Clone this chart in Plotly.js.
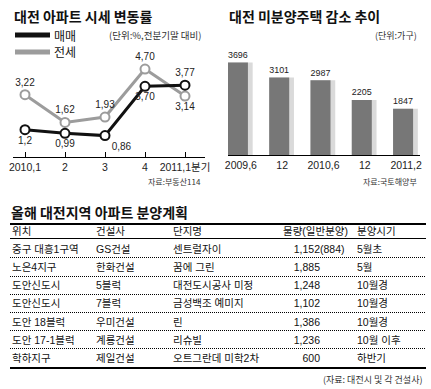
<!DOCTYPE html>
<html>
<head>
<meta charset="utf-8">
<script src="https://cdn.plot.ly/plotly-3.0.1.min.js"></script>
<style>
html,body{margin:0;padding:0;background:#fff;}
#chart{width:431px;height:389px;}
</style>
</head>
<body>
<div id="chart"></div>
<script>
// ---------- data ----------
const periods = ['2010,1', '2', '3', '4', '2011,1분기'];
const saleChange = [1.2, 0.99, 0.86, 3.70, 3.77];
const jeonseChange = [3.22, 1.62, 1.93, 4.70, 3.14];
const saleLabels = ['1,2', '0,99', '0,86', '3,70', '3,77'];
const jeonseLabels = ['3,22', '1,62', '1,93', '4,70', '3,14'];
const seriesNames = ['매매', '전세'];

const months = ['2009,6', '12', '2010,6', '12', '2011,2'];
const unsold = [3696, 3101, 2987, 2205, 1847];

const tableHeaders = ['위치', '건설사', '단지명', '물량(일반분양)', '분양시기'];
const locations = ['중구 대흥1구역', '노은4지구', '도안신도시', '도안신도시', '도안 18블럭', '도안 17-1블럭', '학하지구'];
const builders = ['GS건설', '한화건설', '5블럭', '7블럭', '우미건설', '계룡건설', '제일건설'];
const complexes = ['센트럴자이', '꿈에 그린', '대전도시공사 미정', '금성백조 예미지', '린', '리슈빌', '오트그란데 미학2차'];
const volumes = ['1,152', '1,885', '1,248', '1,102', '1,386', '1,236', '600'];
const generalSupply = ['(884)', '', '', '', '', '', ''];
const timing = ['5월초', '5월', '10월경', '10월경', '10월경', '10월 이후', '하반기'];

// ---------- layout helpers ----------
const W = 431, H = 389;
const px = x => x / W;
const py = y => 1 - y / H;
const NUM = "'Liberation Sans Narrow', 'Liberation Sans', 'Noto Sans CJK KR', sans-serif";
const KR = "'Noto Sans CJK KR', sans-serif";
const TBL = "'Liberation Sans', 'Noto Sans CJK KR', sans-serif";
const BLACK = '#111111', GRAY = '#9c9c9c';

const idx = periods.map((_, i) => i);
const bidx = months.map((_, i) => i);

const traces = [];

// line chart
traces.push({
  x: idx, y: jeonseChange, xaxis: 'x', yaxis: 'y', mode: 'lines+markers+text',
  line: {color: GRAY, width: 3},
  marker: {symbol: 'circle', size: 9, color: '#fff', line: {color: GRAY, width: 2}},
  text: jeonseLabels, textposition: ['top center', 'top center', 'top center', 'top center', 'bottom center'],
  textfont: {family: NUM, size: 10, color: '#222'},
  cliponaxis: false, hoverinfo: 'none', showlegend: false
});
traces.push({
  x: idx, y: saleChange, xaxis: 'x', yaxis: 'y', mode: 'lines+markers+text',
  line: {color: BLACK, width: 3},
  marker: {symbol: 'circle', size: 9, color: '#fff', line: {color: BLACK, width: 2}},
  text: saleLabels, textposition: ['bottom center', 'bottom center', 'bottom right', 'bottom center', 'top center'],
  textfont: {family: NUM, size: 10, color: '#222'},
  cliponaxis: false, hoverinfo: 'none', showlegend: false
});

// bar chart: shadow then bar
traces.push({
  type: 'bar', x: bidx, y: unsold, xaxis: 'x2', yaxis: 'y2',
  offset: -0.2425, width: 0.6, marker: {color: '#dadada'},
  hoverinfo: 'none', showlegend: false
});
traces.push({
  type: 'bar', x: bidx, y: unsold, xaxis: 'x2', yaxis: 'y2',
  offset: -0.2425, width: 0.485, marker: {color: '#777777'},
  text: unsold.map(String), textposition: 'outside',
  textfont: {family: NUM, size: 10.5, color: '#222'},
  cliponaxis: false, hoverinfo: 'none', showlegend: false
});

// table as text traces on its own axes
const colX = [12, 96, 173, 320, 357];
const headerX = [12, 96, 173, 348, 357];
const rowsIdx = locations.map((_, i) => i + 1);
const tfont = {family: TBL, size: 10.5, color: '#111'};
function textCol(xv, yv, txt, pos) {
  traces.push({
    x: yv.map(() => xv), y: yv, text: txt, mode: 'text', textposition: pos,
    xaxis: 'x3', yaxis: 'y3', textfont: tfont, cliponaxis: false,
    hoverinfo: 'none', showlegend: false
  });
}
tableHeaders.forEach((h, c) => {
  textCol(headerX[c], [0], [h], c === 3 ? 'middle left' : 'middle right');
});
textCol(colX[0], rowsIdx, locations, 'middle right');
textCol(colX[1], rowsIdx, builders, 'middle right');
textCol(colX[2], rowsIdx, complexes, 'middle right');
textCol(colX[3], rowsIdx, volumes, 'middle left');
textCol(colX[3], rowsIdx, generalSupply, 'middle right');
textCol(colX[4], rowsIdx, timing, 'middle right');

// ---------- shapes ----------
const shapes = [];
// legend swatches
shapes.push({type: 'line', xref: 'paper', yref: 'paper', x0: px(15), x1: px(50), y0: py(35), y1: py(35), line: {color: BLACK, width: 5}});
shapes.push({type: 'line', xref: 'paper', yref: 'paper', x0: px(15), x1: px(50), y0: py(52), y1: py(52), line: {color: GRAY, width: 5}});
// table rules (row position -> crisp pixel line)
const ROW0 = 232, PITCH = 18.2;
const rowPix = r => Math.round(ROW0 + PITCH * r) + 0.5;
const tl = px(10), tr = px(426);
function rule(r, width, dash, color) {
  const y = width >= 1.5 ? Math.round(ROW0 + PITCH * r) : rowPix(r);
  shapes.push({type: 'line', xref: 'paper', yref: 'paper', x0: tl, x1: tr, y0: py(y), y1: py(y),
    line: {color: color, width: width, dash: dash}});
}
rule(-0.45, 2, 'solid', '#000');
rule(0.33, 1, 'solid', '#000');
for (let r = 1; r < locations.length; r++) rule(r + 0.4, 1, '1px,1px', '#000');
rule(locations.length + 0.45, 2, 'solid', '#000');

// ---------- annotations ----------
function ann(text, x, y, anchor, size, family, color, bold) {
  return {text: bold ? '<b>' + text + '</b>' : text, xref: 'paper', yref: 'paper', x: px(x), y: py(y),
    xanchor: anchor, yanchor: 'middle', showarrow: false,
    font: {size: size, family: family, color: color || '#111'}};
}
const annotations = [
  ann('대전 아파트 시세 변동률', 12, 16, 'left', 14, KR, '#111', true),
  ann('대전 미분양주택 감소 추이', 227, 16, 'left', 14, KR, '#111', true),
  ann('올해 대전지역 아파트 분양계획', 9, 212, 'left', 14, KR, '#111', true),
  ann(seriesNames[0], 52, 35, 'left', 12, KR, '#111'),
  ann(seriesNames[1], 52, 52, 'left', 12, KR, '#111'),
  ann('(단위:%,전분기말 대비)', 204, 35, 'right', 9.5, KR, '#333'),
  ann('자료:부동산114', 203, 182, 'right', 8, KR, '#333'),
  ann('(단위:가구)', 419, 35, 'right', 9, KR, '#333'),
  ann('자료:국토해양부', 419, 182, 'right', 8, KR, '#333'),
  ann('(자료: 대전시 및 각 건설사)', 424, 379, 'right', 9, KR, '#333')
];

const layout = {
  width: W, height: H, margin: {l: 0, r: 0, t: 0, b: 0},
  paper_bgcolor: '#fff', plot_bgcolor: 'rgba(0,0,0,0)',
  showlegend: false, barmode: 'overlay',
  xaxis: {domain: [px(13), px(205)], range: [-0.3, 4.5], tickvals: idx, ticktext: periods,
    showline: true, linecolor: '#000', linewidth: 1, ticks: 'inside', ticklen: 5, tickcolor: '#000',
    showgrid: false, zeroline: false, tickfont: {family: NUM, size: 10.5, color: '#222'}, fixedrange: true},
  yaxis: {domain: [py(157), py(60)], range: [-0.375, 5.22], visible: false, fixedrange: true},
  xaxis2: {domain: [px(228), px(420)], range: [-0.24, 4.41], tickvals: bidx, ticktext: months,
    showline: true, linecolor: '#000', linewidth: 1, ticks: '', showgrid: false, zeroline: false,
    ticklabelshift: 3, tickfont: {family: NUM, size: 10.5, color: '#222'}, fixedrange: true, anchor: 'y2'},
  yaxis2: {domain: [py(155), py(40)], range: [0, 4600], visible: false, fixedrange: true, anchor: 'x2'},
  xaxis3: {domain: [0, 1], range: [0, W], visible: false, fixedrange: true, anchor: 'y3'},
  yaxis3: {domain: [py(370.3), py(221.1)], range: [7.6, -0.6], visible: false, fixedrange: true, anchor: 'x3'},
  shapes: shapes,
  annotations: annotations
};

Plotly.newPlot('chart', traces, layout, {staticPlot: true, displayModeBar: false});
</script>
</body>
</html>
